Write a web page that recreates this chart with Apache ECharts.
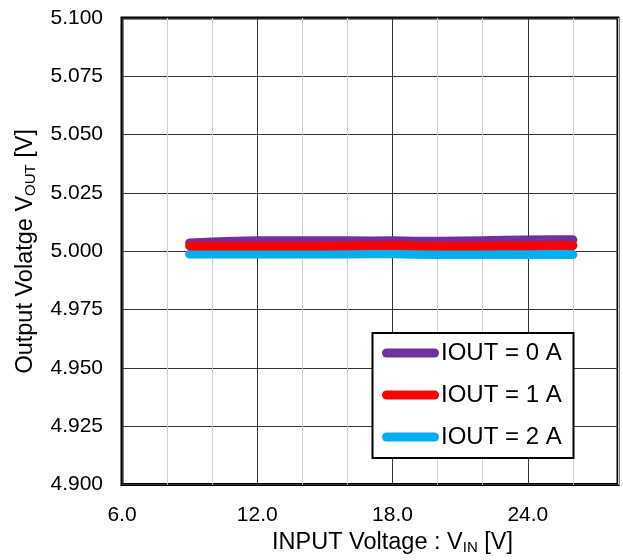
<!DOCTYPE html>
<html>
<head>
<meta charset="utf-8">
<script src="https://cdn.jsdelivr.net/npm/echarts@6/dist/echarts.min.js"></script>
<style>
  html, body { margin: 0; padding: 0; background: #fff; }
  #chart { width: 623px; height: 560px; }
</style>
</head>
<body>
<div id="chart"></div>
<script>
// Input voltage sweep [V]
const vin = [9, 10, 11, 12, 13, 14, 15, 16, 17, 18, 19, 20, 21, 22, 23, 24, 25, 26];

// Output voltage [V] per load current
const vout0A = [5.0036, 5.0040, 5.0043, 5.0045, 5.0045, 5.0045, 5.0045, 5.0045, 5.0044,
                5.0045, 5.0043, 5.0043, 5.0044, 5.0045, 5.0047, 5.0048, 5.0049, 5.0049];
const vout1A = [5.0023, 5.0023, 5.0023, 5.0023, 5.0023, 5.0023, 5.0023, 5.0024, 5.0025,
                5.0026, 5.0024, 5.0023, 5.0023, 5.0023, 5.0024, 5.0024, 5.0025, 5.0025];
const vout2A = [4.9988, 4.9988, 4.9988, 4.9988, 4.9988, 4.9988, 4.9988, 4.9988, 4.9989,
                4.9989, 4.9987, 4.9986, 4.9986, 4.9986, 4.9986, 4.9986, 4.9986, 4.9986];

const seriesNames = ['IOUT = 0 A', 'IOUT = 1 A', 'IOUT = 2 A'];
const seriesColors = ['#7030A0', '#FF0000', '#00B0F0'];

const FONT = '"Liberation Sans", Arial, sans-serif';

function pairs(ys) { return vin.map((v, i) => [v, ys[i]]); }

const chart = echarts.init(document.getElementById('chart'), null, { renderer: 'canvas' });

const lineIcon = 'path://M4.5,0 H52.5 A4.5,4.5 0 0 1 52.5,9 H4.5 A4.5,4.5 0 0 1 4.5,0 Z';
const subStyle = { fontFamily: FONT, fontSize: 15, color: '#000', verticalAlign: 'bottom', padding: [10, 0, 0, 0] };

chart.setOption({
  animation: false,
  backgroundColor: '#fff',
  textStyle: { fontFamily: FONT, color: '#000' },
  grid: {
    left: 122, right: 5, top: 18, bottom: 74,
    show: true, borderColor: '#000', borderWidth: 3, backgroundColor: 'transparent'
  },
  xAxis: {
    type: 'value', min: 6, max: 28, interval: 2,
    axisLine: { show: false }, axisTick: { show: false },
    axisLabel: {
      fontFamily: FONT, fontSize: 21, color: '#000', margin: 20,
      formatter: v => (v % 6 === 0 && v < 28) ? v.toFixed(1) : ''
    },
    splitLine: { show: true, lineStyle: { color: ['#333', '#d0d0d0', '#d0d0d0'], width: 1 } },
    name: 'INPUT Voltage : V{sub|IN} [V]',
    nameLocation: 'middle', nameGap: 41,
    nameTextStyle: {
      fontFamily: FONT, fontSize: 23.5, color: '#000', padding: [0, 0, 0, 45],
      rich: { sub: subStyle }
    }
  },
  yAxis: {
    type: 'value', min: 4.9, max: 5.1, interval: 0.025,
    axisLine: { show: false }, axisTick: { show: false },
    axisLabel: {
      fontFamily: FONT, fontSize: 21, color: '#000', margin: 19,
      formatter: v => v.toFixed(3)
    },
    splitLine: { show: true, lineStyle: { color: '#333', width: 1 } },
    name: 'Output Volatge V{sub|OUT} [V]',
    nameLocation: 'middle', nameGap: 84,
    nameTextStyle: {
      fontFamily: FONT, fontSize: 23.5, color: '#000',
      rich: { sub: subStyle }
    }
  },
  legend: {
    orient: 'vertical', left: 382, top: 341,
    padding: 0, itemGap: 18, itemWidth: 57, itemHeight: 9,
    icon: lineIcon, z: 5,
    textStyle: { fontFamily: FONT, fontSize: 24, color: '#000', lineHeight: 24, padding: [0, 0, 0, -3] },
    data: seriesNames
  },
  graphic: [{
    type: 'rect', z: 1,
    shape: { x: 372.5, y: 333, width: 201, height: 125 },
    style: { fill: '#fff', stroke: '#000', lineWidth: 2 }
  }],
  series: [
    { name: seriesNames[0], data: pairs(vout0A), z: 2 },
    { name: seriesNames[1], data: pairs(vout1A), z: 4 },
    { name: seriesNames[2], data: pairs(vout2A), z: 3 }
  ].map((s, i) => Object.assign({
    type: 'line', showSymbol: false, symbol: 'none', smooth: false,
    color: seriesColors[i],
    lineStyle: { color: seriesColors[i], width: 9, cap: 'round', join: 'round' }
  }, s))
});
</script>
</body>
</html>
